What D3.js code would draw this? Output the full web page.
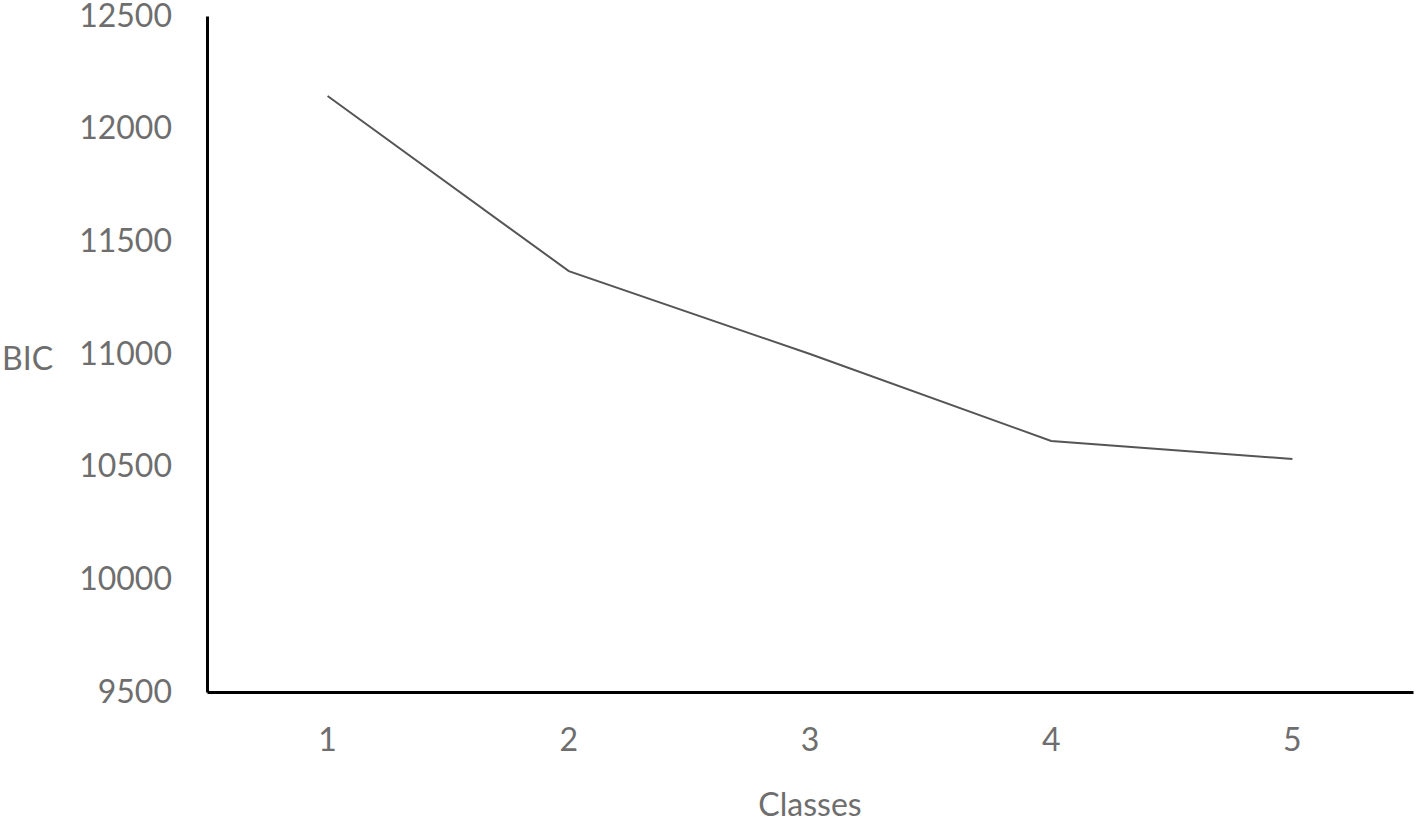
<!DOCTYPE html>
<html>
<head>
<meta charset="utf-8">
<script src="https://cdn.jsdelivr.net/npm/d3@7"></script>
<style>
  html, body { margin: 0; padding: 0; background: #fff; }
  svg { display: block; }
  text { font-family: Lato, "Open Sans", sans-serif; fill: #6e6e6e; }
</style>
</head>
<body>
<svg id="chart" width="1418" height="822"></svg>
<script>
const categories = ["1", "2", "3", "4", "5"];
const bicValues = [12145, 11368, 11000, 10614, 10534];
const yTicks = [9500, 10000, 10500, 11000, 11500, 12000, 12500];
const xTitle = "Classes";
const yTitle = "BIC";

const svg = d3.select("#chart");
const margin = { left: 207, right: 5, top: 16, bottom: 130 };
const W = 1418, H = 822;

const x = d3.scaleBand().domain(categories).range([margin.left, W - margin.right]);
const y = d3.scaleLinear().domain([9500, 12500]).range([H - margin.bottom, margin.top]);

// y axis
const yAxis = d3.axisLeft(y).tickValues(yTicks).tickSize(0).tickPadding(35).tickFormat(d3.format("d"));
const gy = svg.append("g").attr("transform", `translate(${margin.left},0)`).call(yAxis);
gy.select(".domain").attr("stroke", "#000").attr("stroke-width", 3);
gy.selectAll("text").style("font-size", "32px").attr("fill", "#6e6e6e").attr("font-family", "Lato, sans-serif");

// x axis
const xAxis = d3.axisBottom(x).tickSize(0).tickPadding(36);
const gx = svg.append("g").attr("transform", `translate(0,${H - margin.bottom})`).call(xAxis);
gx.select(".domain").attr("stroke", "#000").attr("stroke-width", 3);
gx.selectAll("text").style("font-size", "32px").attr("fill", "#6e6e6e").attr("font-family", "Lato, sans-serif");

// line
const line = d3.line()
  .x((d, i) => x(categories[i]) + x.bandwidth() / 2)
  .y(d => y(d));
svg.append("path")
  .datum(bicValues)
  .attr("d", line)
  .attr("fill", "none")
  .attr("stroke", "#555")
  .attr("stroke-width", 2);

// titles
svg.append("text")
  .attr("x", x("3") + x.bandwidth() / 2)
  .attr("y", 816)
  .attr("text-anchor", "middle")
  .style("font-size", "32px")
  .text(xTitle);

svg.append("text")
  .attr("x", 2)
  .attr("y", 370)
  .attr("text-anchor", "start")
  .style("font-size", "32px")
  .text(yTitle);
</script>
</body>
</html>
